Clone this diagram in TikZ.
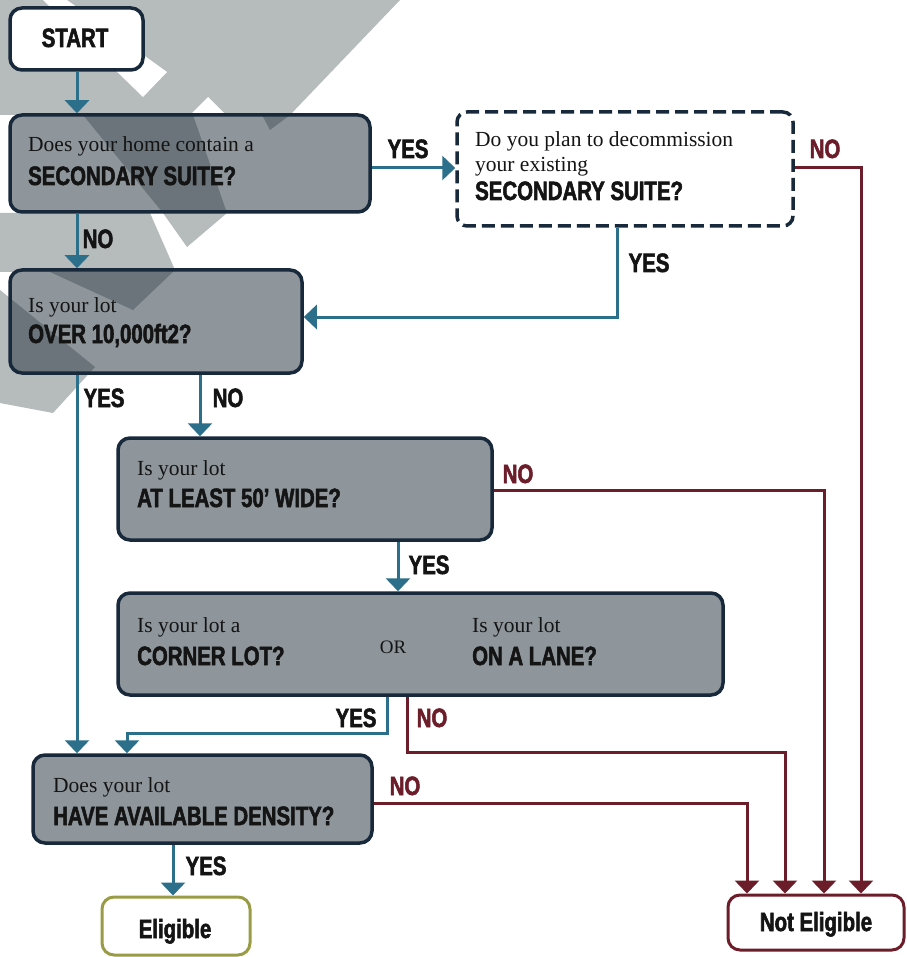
\documentclass[tikz,border=0pt]{standalone}
\usepackage{fontspec}
\setmainfont{Liberation Serif}
\newfontfamily\cond[FakeStretch=0.77, BoldFeatures={FakeBold=2}]{Liberation Sans}
\usetikzlibrary{arrows.meta}
\definecolor{tealc}{HTML}{2B6F8A}
\definecolor{redc}{HTML}{6B1D2A}
\definecolor{navyc}{HTML}{18293B}
\definecolor{boxf}{HTML}{1F2F3A}
\definecolor{wmark}{HTML}{B6BBBC}
\definecolor{olivec}{HTML}{9A9B45}
\definecolor{txtc}{HTML}{141414}
\begin{document}
\begin{tikzpicture}[x=1pt,y=-1pt,
  box/.style={draw=navyc, line width=3.5pt, rounded corners=12pt, fill=boxf, fill opacity=0.5, inner sep=0pt},
  dbox/.style={draw=navyc, line width=3.5pt, rounded corners=10pt, dash pattern=on 13pt off 6pt, fill=white, inner sep=0pt},
  wbox/.style={draw=navyc, line width=3.5pt, rounded corners=12pt, fill=white, inner sep=0pt},
  ebox/.style={draw=olivec, line width=3pt, rounded corners=12pt, fill=white, inner sep=0pt},
  nbox/.style={draw=redc, line width=3pt, rounded corners=12pt, fill=white, inner sep=0pt},
  stxt/.style={font=\fontsize{21.5}{22}\selectfont, text=txtc, inner sep=0pt, anchor=base west},
  btxt/.style={font=\cond\bfseries\fontsize{26.5}{26.5}\selectfont, text=txtc, inner sep=0pt, anchor=base west},
  ylab/.style={font=\cond\bfseries\fontsize{26.5}{26.5}\selectfont, text=txtc, inner sep=0pt, anchor=base},
  nlab/.style={font=\cond\bfseries\fontsize{26.5}{26.5}\selectfont, text=redc, inner sep=0pt, anchor=base},
  tline/.style={draw=tealc, line width=3pt},
  tarrow/.style={tline, -{Triangle[width=24pt,length=13pt]}},
  rarrow/.style={draw=redc, line width=3pt, -{Triangle[width=24pt,length=13pt]}}
]
\useasboundingbox (0,0) rectangle (906,957);
\fill[white] (0,0) rectangle (906,957);

% watermark bands
\fill[wmark] (0,0) -- (400,0) -- (290,115) -- (270,130) -- (262,115) -- (193,115) -- (227,213) -- (187,247) -- (163,213) -- (83,115) -- (0,115) -- cycle;
\fill[white] (43,0) -- (67,0) -- (167,72) -- (143,97) -- cycle;
\fill[white] (190,115) -- (208,97) -- (226,115) -- cycle;
\fill[wmark] (0,213) -- (150,213) -- (175,270) -- (133,310) -- (50,272) -- (0,272) -- cycle;
\fill[wmark] (0,290) -- (95,367) -- (53,413) -- (0,403) -- cycle;

% boxes
\node[wbox, minimum width=133pt, minimum height=62pt] (start) at (76.5,39) {};
\node[box, minimum width=360pt, minimum height=97pt] (q1) at (190,163.5) {};
\node[dbox, minimum width=336pt, minimum height=114pt] (q1b) at (625,169) {};
\node[box, minimum width=292pt, minimum height=103pt] (q2) at (156,321.5) {};
\node[box, minimum width=374pt, minimum height=102pt] (q3) at (305,489) {};
\node[box, minimum width=605pt, minimum height=102pt] (q4) at (420.5,644) {};
\node[box, minimum width=339pt, minimum height=88pt] (q5) at (202.5,799) {};
\node[ebox, minimum width=148pt, minimum height=58pt] (elig) at (176,926) {};
\node[nbox, minimum width=176pt, minimum height=55pt] (ne) at (816,922.5) {};

% box texts
\node[ylab] (tstart) at (75,47) {START};
\node[stxt] (q1a) at (28,152) {Does your home contain a};
\node[btxt] (q1c) at (28,185) {SECONDARY SUITE?};
\node[stxt] (q1ba) at (475,147) {Do you plan to decommission};
\node[stxt] (q1bb) at (475,172) {your existing};
\node[btxt] (q1bc) at (475,200) {SECONDARY SUITE?};
\node[stxt] (q2a) at (28,312) {Is your lot};
\node[btxt] (q2b) at (28,343) {OVER 10,000ft2?};
\node[stxt] (q3a) at (137,475) {Is your lot};
\node[btxt] (q3b) at (137,507) {AT LEAST 50’ WIDE?};
\node[stxt] (q4a) at (137,632) {Is your lot a};
\node[btxt] (q4b) at (137,665) {CORNER LOT?};
\node[font=\fontsize{19}{19}\selectfont, text=txtc, inner sep=0pt, anchor=base] (q4or) at (393,653) {OR};
\node[stxt] (q4c) at (472,632) {Is your lot};
\node[btxt] (q4d) at (472,665) {ON A LANE?};
\node[stxt] (q5a) at (53,792) {Does your lot};
\node[btxt] (q5b) at (53,825) {HAVE AVAILABLE DENSITY?};
\node[ylab] (telig) at (175,938) {Eligible};
\node[ylab] (tne) at (816,931) {Not Eligible};

% helper coordinates
\coordinate (x77) at (77,0);
\coordinate (x200) at (200,0);
\coordinate (x398) at (398,0);
\coordinate (x173) at (173,0);
\coordinate (y168) at (0,168);
\coordinate (c1) at (617,317);
\coordinate (r1) at (861,168);
\coordinate (r3) at (824,490);
\coordinate (r4a) at (407,752);
\coordinate (r4b) at (785,752);
\coordinate (r5) at (747,803);
\coordinate (t4a) at (387,733);
\coordinate (t4b) at (127,733);

% teal connectors
\draw[tarrow] (start.south -| x77) -- (q1.north -| x77);
\draw[tarrow] (q1.east |- y168) -- (q1b.west |- y168);
\draw[tarrow] (q1.south -| x77) -- (q2.north -| x77);
\draw[tarrow] (q1b.south -| c1) -- (c1) -- (q2.east |- c1);
\draw[tarrow] (q2.south -| x77) -- (q5.north -| x77);
\draw[tarrow] (q2.south -| x200) -- (q3.north -| x200);
\draw[tarrow] (q3.south -| x398) -- (q4.north -| x398);
\draw[tarrow] (q4.south -| t4a) -- (t4a) -- (t4b) -- (q5.north -| t4b);
\draw[tarrow] (q5.south -| x173) -- (elig.north -| x173);

% red connectors
\draw[rarrow] (q1b.east |- r1) -- (r1) -- (ne.north -| r1);
\draw[rarrow] (q3.east |- r3) -- (r3) -- (ne.north -| r3);
\draw[rarrow] (q4.south -| r4a) -- (r4a) -- (r4b) -- (ne.north -| r4b);
\draw[rarrow] (q5.east |- r5) -- (r5) -- (ne.north -| r5);

% labels
\node[ylab] (l1) at (408,158) {YES};
\node[nlab] (l2) at (825,158) {NO};
\node[ylab] (l3) at (98,248) {NO};
\node[ylab] (l4) at (649,272) {YES};
\node[ylab] (l5) at (104,407) {YES};
\node[ylab] (l6) at (228,407) {NO};
\node[nlab] (l7) at (518,483) {NO};
\node[ylab] (l8) at (429,574) {YES};
\node[ylab] (l9) at (356,727) {YES};
\node[nlab] (l10) at (432,727) {NO};
\node[nlab] (l11) at (405,795) {NO};
\node[ylab] (l12) at (206,875) {YES};
\end{tikzpicture}
\end{document}
